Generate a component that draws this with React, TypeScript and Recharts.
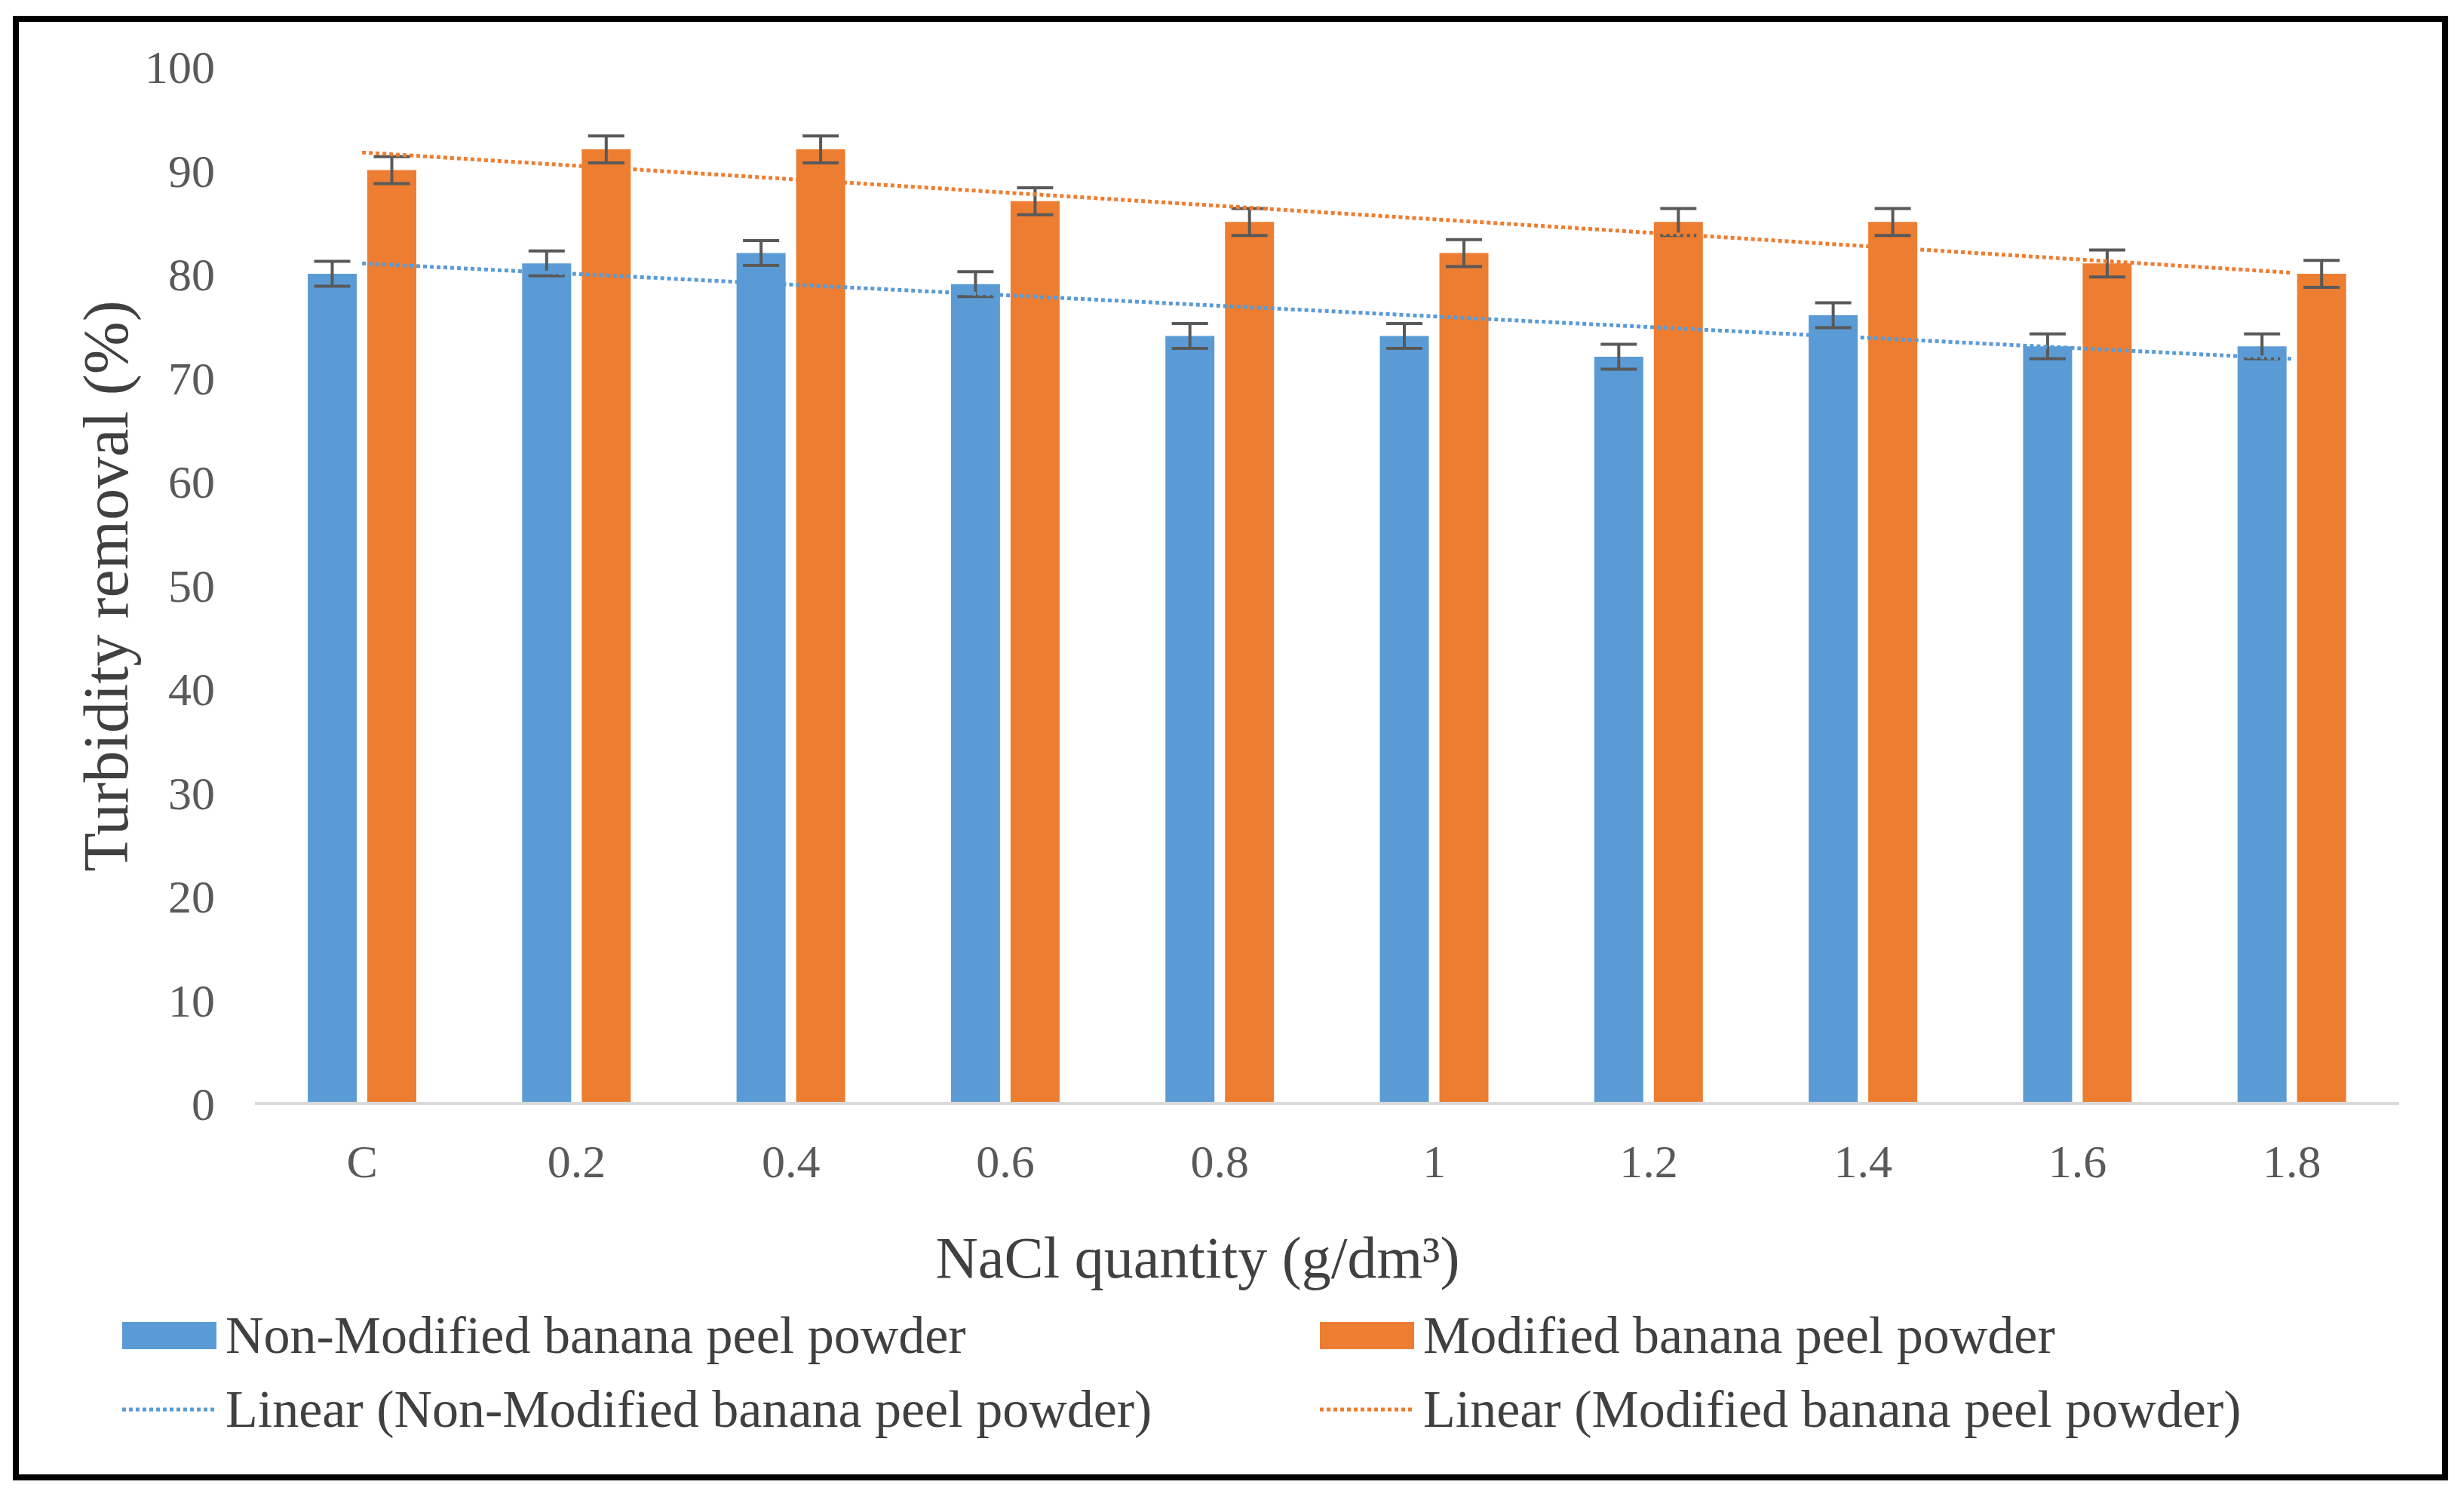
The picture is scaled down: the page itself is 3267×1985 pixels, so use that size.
import { Bar, ComposedChart, ErrorBar, Line, XAxis, YAxis } from 'recharts'

const W = 3267
const H = 1985
const BLUE = '#5b9bd5'
const ORANGE = '#ed7d31'
const ERR = '#595959'
const TEXT = '#404040'
const FONT = '"Liberation Serif", "Times New Roman", serif'

const categories = ['C', '0.2', '0.4', '0.6', '0.8', '1', '1.2', '1.4', '1.6', '1.8']
const nonModified = [80, 81, 82, 79, 74, 74, 72, 76, 73, 73]
const modified = [90, 92, 92, 87, 85, 82, 85, 85, 81, 80]
const nonModifiedErr = [1.2, 1.2, 1.2, 1.2, 1.2, 1.2, 1.2, 1.2, 1.2, 1.2]
const modifiedErr = [1.3, 1.3, 1.3, 1.3, 1.3, 1.3, 1.3, 1.3, 1.3, 1.3]
// trend line ends (first and last category)
const nonModifiedTrend = [81.0, null, null, null, null, null, null, null, null, 71.8]
const modifiedTrend = [91.7, null, null, null, null, null, null, null, null, 80.1]
const yTicks = [0, 10, 20, 30, 40, 50, 60, 70, 80, 90, 100]
const seriesNames = ['Non-Modified banana peel powder', 'Modified banana peel powder']

const data = categories.map((c, i) => ({
  cat: c,
  nonMod: nonModified[i],
  nonModErr: nonModifiedErr[i],
  mod: modified[i],
  modErr: modifiedErr[i],
  nonModTrend: nonModifiedTrend[i],
  modTrend: modifiedTrend[i],
}))

function XTitle() {
  return (
    <text x={1588} y={1667} textAnchor="middle" dominantBaseline="central" fontFamily={FONT} fontSize={78} fill={TEXT}>
      NaCl quantity  (g/dm³)
    </text>
  )
}

function YTitle() {
  return (
    <text
      x={140}
      y={777}
      transform="rotate(-90, 140, 777)"
      textAnchor="middle"
      dominantBaseline="central"
      fontFamily={FONT}
      fontSize={84}
      fill={TEXT}
    >
      Turbidity removal (%)
    </text>
  )
}

function Swatch({ color, kind }: { color: string; kind: 'bar' | 'line' }) {
  return (
    <svg width={125} height={36} style={{ display: 'block' }}>
      {kind === 'bar' ? (
        <rect x={0} y={0} width={125} height={36} fill={color} />
      ) : (
        <line x1={0} x2={125} y1={18} y2={18} stroke={color} strokeWidth={5} strokeDasharray="5 4" />
      )}
    </svg>
  )
}

function LegendItem({ left, top, color, kind, label }: { left: number; top: number; color: string; kind: 'bar' | 'line'; label: string }) {
  return (
    <div style={{ position: 'absolute', left, top, height: 100, display: 'flex', alignItems: 'center' }}>
      <Swatch color={color} kind={kind} />
      <span style={{ marginLeft: 12, fontFamily: FONT, fontSize: 70, color: TEXT, whiteSpace: 'pre', lineHeight: 1 }}>{label}</span>
    </div>
  )
}

export default function App() {
  return (
    <div style={{ position: 'absolute', left: 0, top: 0, width: W, height: H, background: '#fff' }}>
      <div
        style={{
          position: 'absolute',
          left: 17,
          top: 21,
          width: 3229,
          height: 1942,
          border: '8px solid #000',
          boxSizing: 'border-box',
        }}
      />
      <div style={{ position: 'absolute', left: 0, top: 0 }}>
        <ComposedChart
          width={W}
          height={H}
          data={data}
          margin={{ top: 88, right: 86, left: 0, bottom: 272 }}
          barGap={14}
          barSize={65}
        >
          <XAxis
            dataKey="cat"
            height={250}
            axisLine={{ stroke: '#d9d9d9', strokeWidth: 4 }}
            tickLine={false}
            tickMargin={48}
            tick={{ fontFamily: FONT, fontSize: 62, fill: ERR }}
            label={<XTitle />}
          />
          <YAxis
            width={338}
            domain={[0, 100]}
            ticks={yTicks}
            axisLine={false}
            tickLine={false}
            tickMargin={47}
            tick={{ fontFamily: FONT, fontSize: 62, fill: ERR }}
            label={<YTitle />}
          />
          <Bar dataKey="nonMod" name={seriesNames[0]} fill={BLUE} isAnimationActive={false}>
            <ErrorBar dataKey="nonModErr" direction="y" width={24} stroke={ERR} strokeWidth={4} />
          </Bar>
          <Bar dataKey="mod" name={seriesNames[1]} fill={ORANGE} isAnimationActive={false}>
            <ErrorBar dataKey="modErr" direction="y" width={24} stroke={ERR} strokeWidth={4} />
          </Bar>
          <Line
            dataKey="nonModTrend"
            stroke={BLUE}
            strokeWidth={5}
            strokeDasharray="5 4"
            dot={false}
            connectNulls
            isAnimationActive={false}
          />
          <Line
            dataKey="modTrend"
            stroke={ORANGE}
            strokeWidth={5}
            strokeDasharray="5 4"
            dot={false}
            connectNulls
            isAnimationActive={false}
          />
        </ComposedChart>
      </div>
      <LegendItem left={162} top={1721} color={BLUE} kind="bar" label={seriesNames[0]} />
      <LegendItem left={1750} top={1721} color={ORANGE} kind="bar" label={seriesNames[1]} />
      <LegendItem left={162} top={1819} color={BLUE} kind="line" label={`Linear (${seriesNames[0]})`} />
      <LegendItem left={1750} top={1819} color={ORANGE} kind="line" label={`Linear (${seriesNames[1]})`} />
    </div>
  )
}
